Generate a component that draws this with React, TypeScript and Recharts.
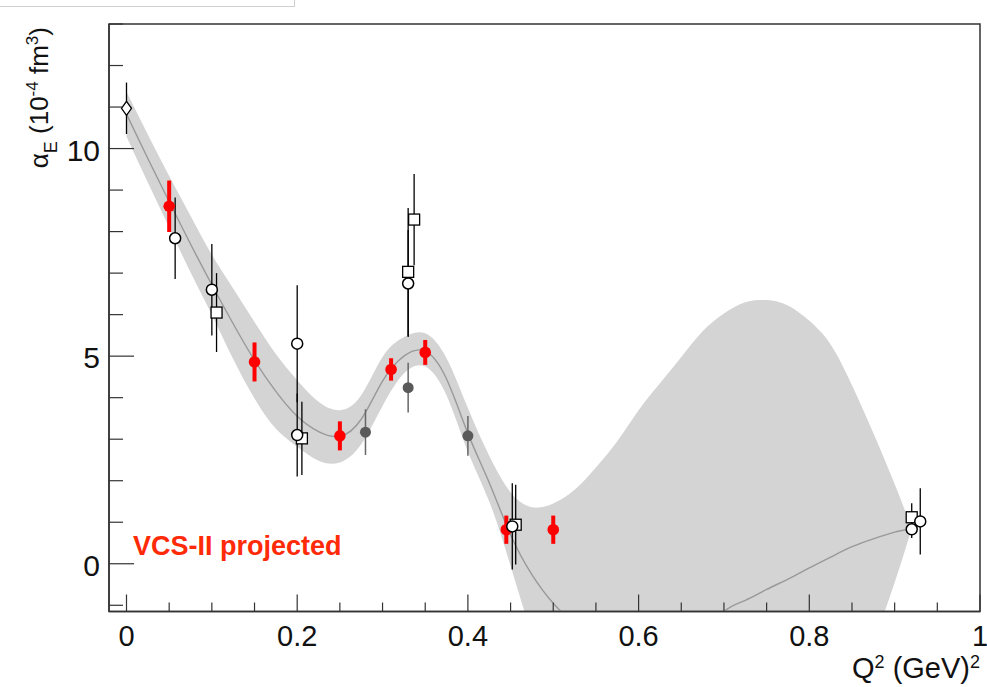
import React from "react";
import { Area, ComposedChart, ErrorBar, Label, Line, ReferenceArea, Scatter, XAxis, YAxis } from "recharts";

// fit curve and its error band, sampled on a Q² grid
const fitQ = [
  0, 0.025, 0.05, 0.075, 0.1, 0.125, 0.15, 0.175, 0.2, 0.225, 0.25, 0.275, 0.3, 0.325, 0.35, 0.375, 0.4, 0.425, 0.45,
  0.475, 0.5, 0.525, 0.55, 0.575, 0.6, 0.625, 0.65, 0.675, 0.7, 0.725, 0.75, 0.775, 0.8, 0.825, 0.85, 0.875, 0.9, 0.92,
];
const fitValue = [
  10.83, 9.76, 8.72, 7.7, 6.72, 5.78, 4.9, 4.15, 3.55, 3.18, 3.07, 3.48, 4.4, 5.0, 5.12, 4.45, 3.14, 1.95, 0.7, -0.26,
  -0.95, -1.45, -1.85, -2.15, -2.35, -2.4, -2.2, -1.75, -1.15, -0.88, -0.62, -0.37, -0.1, 0.16, 0.41, 0.6, 0.76, 0.85,
];
const bandLow = [
  10.29, 9.18, 8.1, 7.02, 6.0, 4.93, 3.98, 3.25, 2.82, 2.48, 2.44, 2.88, 3.8, 4.58, 4.75, 4.05, 2.7, 1.5, -0.05, -1.7,
  -3.0, -4.0, -4.6, -5, -5, -5, -5, -5, -5, -5, -5, -5, -5, -5, -3.8, -2.0, -0.45, 0.85,
];
const bandHigh = [
  11.37, 10.34, 9.34, 8.38, 7.44, 6.63, 5.82, 5.05, 4.42, 3.9, 3.7, 4.06, 4.98, 5.46, 5.55, 4.95, 3.75, 2.6, 1.72, 1.36,
  1.45, 1.78, 2.32, 2.95, 3.7, 4.35, 4.98, 5.6, 6.03, 6.3, 6.35, 6.22, 5.85, 5.28, 4.3, 3.15, 1.92, 0.85,
];

// measurements
const diamondQ = [0];
const diamondV = [10.97];
const diamondErr = [0.62];

const circleQ = [0.057, 0.1, 0.2, 0.2, 0.33, 0.452, 0.92, 0.93];
const circleV = [7.84, 6.6, 5.3, 3.1, 6.75, 0.9, 0.83, 1.02];
const circleErr = [0.98, 1.1, 1.41, 1.0, 1.29, 1.04, 0.21, 0.8];

const squareQ = [0.1055, 0.2055, 0.33, 0.337, 0.456, 0.92];
const squareV = [6.05, 3.02, 7.03, 8.29, 0.94, 1.12];
const squareErr = [0.95, 0.88, 1.54, 1.1, 0.96, 0.34];

const grayQ = [0.28, 0.33, 0.4];
const grayV = [3.17, 4.24, 3.08];
const grayErr = [0.55, 0.6, 0.48];

// VCS-II projected points
const projQ = [0.05, 0.15, 0.25, 0.31, 0.35, 0.445, 0.5];
const projV = [8.61, 4.86, 3.08, 4.68, 5.09, 0.82, 0.82];
const projErr = [0.62, 0.47, 0.35, 0.27, 0.3, 0.34, 0.34];

const xTicks = [
  0, 0.05, 0.1, 0.15, 0.2, 0.25, 0.3, 0.35, 0.4, 0.45, 0.5, 0.55, 0.6, 0.65, 0.7, 0.75, 0.8, 0.85, 0.9, 0.95, 1,
];
const xMajor = [0, 0.2, 0.4, 0.6, 0.8, 1];
const yTicks = [-1, 0, 1, 2, 3, 4, 5, 6, 7, 8, 9, 10, 11, 12, 13];
const yMajor = [0, 5, 10];

const AXIS = "#333";
const FONT = '"Liberation Sans", Arial, Helvetica, sans-serif';

const zip = (q: number[], v: number[], e: number[]) => q.map((x, i) => ({ q: x, v: v[i], err: e[i] }));

const bandData = fitQ.map((q, i) => ({ q, range: [bandLow[i], bandHigh[i]] }));
const fitData = fitQ.map((q, i) => ({ q, v: fitValue[i] }));

const isMajor = (list: number[], v: number) => list.some((m) => Math.abs(m - v) < 1e-6);

const XTick = (props: any) => {
  const { x, y, payload } = props;
  const major = isMajor(xMajor, payload.value);
  return (
    <g>
      <line x1={x} x2={x} y1={y} y2={y - (major ? 17 : 9)} stroke={AXIS} strokeWidth={1.2} />
      {major && (
        <text x={x} y={y + 34} textAnchor="middle" fontSize={29} fontFamily={FONT} fill="#111">
          {payload.value}
        </text>
      )}
    </g>
  );
};

const YTick = (props: any) => {
  const { x, y, payload } = props;
  const major = isMajor(yMajor, payload.value);
  return (
    <g>
      <line x1={x} x2={x + (major ? 25 : 14)} y1={y} y2={y} stroke={AXIS} strokeWidth={1.2} />
      {major && (
        <text x={x - 9} y={y + 12} textAnchor="end" fontSize={30} fontFamily={FONT} fill="#111">
          {payload.value}
        </text>
      )}
    </g>
  );
};

const OpenCircle = ({ cx, cy }: any) => <circle cx={cx} cy={cy} r={5.5} fill="#fff" stroke="#000" strokeWidth={1.5} />;
const OpenSquare = ({ cx, cy }: any) => (
  <rect x={cx - 5.5} y={cy - 5.5} width={11} height={11} fill="#fff" stroke="#000" strokeWidth={1.3} />
);
const OpenDiamond = ({ cx, cy }: any) => (
  <polygon
    points={`${cx},${cy - 7} ${cx + 5},${cy} ${cx},${cy + 7} ${cx - 5},${cy}`}
    fill="#fff"
    stroke="#000"
    strokeWidth={1.3}
  />
);
const GrayDot = ({ cx, cy }: any) => <circle cx={cx} cy={cy} r={5.5} fill="#5a5a5a" />;
const RedDot = ({ cx, cy }: any) => <circle cx={cx} cy={cy} r={5.8} fill="#ff0000" />;

const App: React.FC = () => {
  return (
    <div style={{ position: "absolute", left: 0, top: 0, width: 987, height: 687, background: "#fff" }}>
      <div
        style={{
          position: "absolute",
          left: 0,
          top: 0,
          width: 294,
          height: 6,
          borderRight: "1px solid #cfcfcf",
          borderBottom: "1px solid #cfcfcf",
        }}
      />
      <ComposedChart width={987} height={687} margin={{ top: 24, right: 7, bottom: 5.5, left: 9 }}>
        <Area
          data={bandData}
          dataKey="range"
          type="natural"
          fill="#d4d4d4"
          fillOpacity={1}
          stroke="none"
          isAnimationActive={false}
        />
        <Line
          data={fitData}
          dataKey="v"
          type="natural"
          stroke="#999"
          strokeWidth={1.4}
          dot={false}
          isAnimationActive={false}
        />
        <Scatter data={zip(projQ, projV, projErr)} dataKey="v" shape={RedDot} isAnimationActive={false}>
          <ErrorBar dataKey="err" direction="y" width={0} stroke="#ff0000" strokeWidth={4} />
        </Scatter>
        <Scatter data={zip(grayQ, grayV, grayErr)} dataKey="v" shape={GrayDot} isAnimationActive={false}>
          <ErrorBar dataKey="err" direction="y" width={0} stroke="#666" strokeWidth={1.5} />
        </Scatter>
        <Scatter data={zip(diamondQ, diamondV, diamondErr)} dataKey="v" shape={OpenDiamond} isAnimationActive={false}>
          <ErrorBar dataKey="err" direction="y" width={0} stroke="#000" strokeWidth={1.3} />
        </Scatter>
        <Scatter data={zip(squareQ, squareV, squareErr)} dataKey="v" shape={OpenSquare} isAnimationActive={false}>
          <ErrorBar dataKey="err" direction="y" width={0} stroke="#000" strokeWidth={1.3} />
        </Scatter>
        <Scatter data={zip(circleQ, circleV, circleErr)} dataKey="v" shape={OpenCircle} isAnimationActive={false}>
          <ErrorBar dataKey="err" direction="y" width={0} stroke="#000" strokeWidth={1.3} />
        </Scatter>
        <ReferenceArea x1={-0.0205} x2={1} y1={-1.15} y2={13} fill="none" stroke={AXIS} strokeWidth={1.5}>
          <Label
            content={(p: any) => {
              const vb = p.viewBox;
              return (
                <text
                  x={vb.x + 24}
                  y={vb.y + vb.height - 56.5}
                  fontSize={27}
                  fontWeight="bold"
                  fontFamily={FONT}
                  fill="#ff2a08"
                >
                  VCS-II projected
                </text>
              );
            }}
          />
        </ReferenceArea>
        <XAxis
          type="number"
          dataKey="q"
          domain={[-0.0205, 1]}
          allowDataOverflow
          ticks={xTicks}
          interval={0}
          tickSize={0}
          tickMargin={0}
          tickLine={false}
          tick={(p: any) => <XTick {...p} />}
          axisLine={{ stroke: AXIS, strokeWidth: 1.5 }}
          height={70}
        >
          <Label
            content={(p: any) => {
              const vb = p.viewBox;
              return (
                <text x={vb.x + vb.width} y={vb.y + 66.5} textAnchor="end" fontSize={29} fontFamily={FONT} fill="#111">
                  Q
                  <tspan fontSize={18} dy={-10}>
                    2
                  </tspan>
                  <tspan dy={10}> (GeV)</tspan>
                  <tspan fontSize={18} dy={-10}>
                    2
                  </tspan>
                </text>
              );
            }}
          />
        </XAxis>
        <YAxis
          type="number"
          domain={[-1.15, 13]}
          allowDataOverflow
          ticks={yTicks}
          interval={0}
          tickSize={0}
          tickMargin={0}
          tickLine={false}
          tick={(p: any) => <YTick {...p} />}
          axisLine={{ stroke: AXIS, strokeWidth: 1.5 }}
          width={100}
        >
          <Label
            content={(p: any) => {
              const vb = p.viewBox;
              const x = vb.x + 39;
              const y = vb.y + 3;
              return (
                <text
                  x={x}
                  y={y}
                  transform={`rotate(-90 ${x} ${y})`}
                  textAnchor="end"
                  fontSize={26}
                  fontFamily={FONT}
                  fill="#111"
                >
                  α
                  <tspan fontSize={18} dy={9}>
                    E
                  </tspan>
                  <tspan dy={-9}> (10</tspan>
                  <tspan fontSize={17} dy={-10}>
                    -4
                  </tspan>
                  <tspan dy={10}> fm</tspan>
                  <tspan fontSize={17} dy={-10}>
                    3
                  </tspan>
                  <tspan dy={10}>)</tspan>
                </text>
              );
            }}
          />
        </YAxis>
      </ComposedChart>
    </div>
  );
};

export default App;
